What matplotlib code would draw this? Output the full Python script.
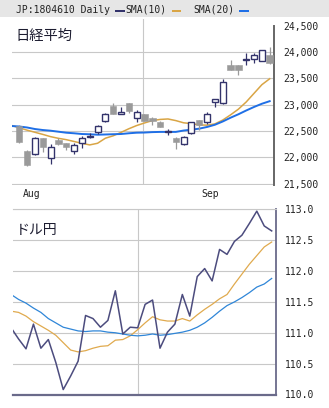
import matplotlib
matplotlib.use('Agg')
from matplotlib import pyplot as plt
from matplotlib.patches import Rectangle
import numpy as np

plt.rcParams.update({
    'font.family': ['DejaVu Sans Mono'],
    'font.size': 7,
    'figure.dpi': 100,
})

# --- Nikkei 225 daily candles (Aug 10 .. Sep 27) ---
nk_open = [22594, 22119, 22057, 22361, 21981, 22328, 22266, 22119, 22266, 22385, 22486,
           22695, 22975, 22822, 23037, 22741, 22822, 22746, 22676, 22480, 22372, 22247,
           22467, 22703, 22665, 23044, 23031, 23753, 23753, 23842, 23873, 23835, 23937]
nk_high = [22613, 22138, 22380, 22372, 22252, 22361, 22270, 22266, 22404, 22456, 22610,
           22847, 23025, 22961, 23040, 22898, 22830, 22771, 22680, 22537, 22380, 22395,
           22676, 22710, 22866, 23110, 23487, 23842, 23760, 23981, 23981, 24040, 24089]
nk_low = [22266, 21834, 22040, 22106, 21867, 22233, 22138, 22057, 22171, 22372, 22442,
          22665, 22817, 22822, 22847, 22676, 22690, 22613, 22575, 22423, 22152, 22240,
          22442, 22518, 22632, 22961, 23020, 23650, 23569, 23759, 23791, 23830, 23780]
nk_close = [22296, 21853, 22361, 22201, 22190, 22258, 22201, 22228, 22361, 22404, 22600,
            22817, 22817, 22855, 22879, 22866, 22695, 22680, 22581, 22487, 22296, 22391,
            22665, 22613, 22822, 23107, 23430, 23664, 23664, 23858, 23937, 24032, 23791]
# moving averages start one session earlier (clipped at the left edge)
nk_sma10 = [22605, 22560, 22515, 22475, 22435, 22392, 22360, 22335, 22300, 22265, 22235,
            22266, 22362, 22408, 22473, 22542, 22603, 22652, 22697, 22719, 22728, 22697,
            22655, 22640, 22615, 22610, 22634, 22707, 22806, 22914, 23051, 23215, 23379,
            23492]
nk_sma20 = [22594, 22585, 22566, 22537, 22518, 22505, 22486, 22467, 22456, 22442, 22437,
            22429, 22433, 22438, 22442, 22456, 22467, 22470, 22478, 22482, 22482, 22482,
            22508, 22524, 22544, 22576, 22618, 22680, 22752, 22817, 22889, 22956, 23017,
            23066]
nk_ticks = [21500, 22000, 22500, 23000, 23500, 24000, 24500]
nk_labels = ['21,500', '22,000', '22,500', '23,000', '23,500', '24,000', '24,500']

# --- USD/JPY daily close (Aug 9 .. Sep 27) ---
fx_close = [111.08, 110.90, 110.74, 111.14, 110.75, 110.89, 110.52, 110.08, 110.30,
            110.54, 111.28, 111.23, 111.09, 111.20, 111.68, 110.98, 111.09, 111.08,
            111.46, 111.53, 110.75, 111.01, 111.14, 111.62, 111.27, 111.91, 112.04,
            111.84, 112.35, 112.27, 112.48, 112.58, 112.77, 112.97, 112.73, 112.65]
fx_sma10 = [111.35, 111.33, 111.27, 111.18, 111.11, 111.04, 110.96, 110.84, 110.72,
            110.69, 110.71, 110.75, 110.78, 110.79, 110.88, 110.89, 110.95, 111.05,
            111.16, 111.26, 111.21, 111.19, 111.19, 111.23, 111.19, 111.29, 111.38,
            111.46, 111.55, 111.62, 111.79, 111.95, 112.11, 112.25, 112.39, 112.47]
fx_sma20 = [111.62, 111.54, 111.48, 111.40, 111.33, 111.23, 111.16, 111.09, 111.06,
            111.03, 111.02, 111.03, 111.03, 111.01, 111.00, 110.98, 110.96, 110.95,
            110.96, 110.98, 110.96, 110.97, 110.99, 111.01, 111.04, 111.09, 111.16,
            111.25, 111.35, 111.44, 111.50, 111.57, 111.65, 111.74, 111.79, 111.88]
fx_ticks = [110.0, 110.5, 111.0, 111.5, 112.0, 112.5, 113.0]
fx_labels = ['110.0', '110.5', '111.0', '111.5', '112.0', '112.5', '113.0']

month_labels = ['Aug', 'Sep']

NAVY = '#33336b'
GRAY = '#9a9a9a'
GRID = '#c8c8c8'
W, H = 329, 408


def px_box(x0, y0, x1, y1):
    """Axes rectangle from pixel corners (top-left origin)."""
    return [x0 / W, 1 - y1 / H, (x1 - x0) / W, (y1 - y0) / H]


fig = plt.figure(figsize=(W / 100, H / 100), dpi=100)

# header bar + legend
hdr = fig.add_axes([0, 0, 1, 1])
hdr.set_xlim(0, W)
hdr.set_ylim(H, 0)
hdr.axis('off')
hdr.add_patch(Rectangle((0, 0), W, 16.5, color='#e6e6e6', lw=0))
hdr.text(16, 13, 'JP:1804610 Daily', fontsize=7, color='#222222')
hdr.add_patch(Rectangle((115, 9.8), 10, 2.4, color=NAVY, lw=0))
hdr.text(125, 13, 'SMA(10)', fontsize=7, color='#222222')
hdr.add_patch(Rectangle((172, 10), 9, 2.2, color='#d9a545', lw=0))
hdr.text(193, 13, 'SMA(20)', fontsize=7, color='#222222')
hdr.add_patch(Rectangle((239, 10), 10, 2.2, color='#1f6fe6', lw=0))

# ---------------- Nikkei panel ----------------
ax = fig.add_axes(px_box(12, 19, 274, 184.6))
x = np.arange(len(nk_close))
o = np.array(nk_open)
c = np.array(nk_close)
up = c >= o
body_lo = np.minimum(o, c)
body_h = np.maximum(np.abs(c - o), 12)

ax.vlines(x[up], np.array(nk_low)[up], np.array(nk_high)[up], color=NAVY, lw=0.9, zorder=3)
ax.vlines(x[~up], np.array(nk_low)[~up], np.array(nk_high)[~up], color=GRAY, lw=0.9, zorder=3)
ax.bar(x[up], body_h[up], bottom=body_lo[up], width=0.76, facecolor='white',
       edgecolor=NAVY, lw=1.0, zorder=4)
ax.bar(x[~up], body_h[~up], bottom=body_lo[~up], width=0.82, facecolor=GRAY,
       edgecolor=GRAY, lw=0.4, zorder=4)

xs = np.arange(-1, len(nk_sma10) - 1)
ax.plot(xs, nk_sma10, color='#d9a545', lw=1.1, zorder=2)
ax.plot(xs, nk_sma20, color='#1f6fe6', lw=1.4, zorder=2)

ax.set_xlim(-0.93, 32.55)
ax.set_ylim(21481, 24627)
ax.set_yticks(nk_ticks)
ax.set_yticklabels(nk_labels)
ax.yaxis.tick_right()
ax.set_xticks([1.56, 24.43])
ax.set_xticklabels(month_labels)
ax.tick_params(length=0, labelsize=7, labelcolor='#222222')
ax.tick_params(axis='y', pad=6.5)
ax.tick_params(axis='x', pad=3.5)
ax.grid(axis='y', color=GRID, lw=0.8)
ax.yaxis.get_gridlines()[-1].set_visible(False)
ax.axvline(15.85, color=GRID, lw=0.8, zorder=1)
for s in ['top', 'left', 'bottom']:
    ax.spines[s].set_visible(False)
ax.spines['right'].set_color('#666666')
ax.spines['right'].set_linewidth(1.4)
ax.spines['right'].set_bounds(21481, 24500)
ax.set_axisbelow(True)
ax.text(0.012, 0.9, '日経平均', transform=ax.transAxes, fontsize=10.3,
        family=['Noto Sans CJK JP', 'DejaVu Sans'], color='#1c1c30', va='center')

# ---------------- USD/JPY panel ----------------
bx = fig.add_axes(px_box(13, 209.3, 276, 394.5))
xf = np.arange(-2, len(fx_close) - 2)
bx.plot(xf, fx_close, color='#4c4c7e', lw=1.1, zorder=3)
bx.plot(xf, fx_sma10, color='#e0aa4e', lw=0.9, zorder=2)
bx.plot(xf, fx_sma20, color='#2f86d8', lw=0.9, zorder=2)

bx.set_xlim(-1.746, 33.58)
bx.set_ylim(110.0, 113.0)
bx.set_yticks(fx_ticks)
bx.set_yticklabels(fx_labels)
bx.yaxis.tick_right()
bx.set_xticks([])
bx.tick_params(length=0, labelsize=7, labelcolor='#222222', pad=6.5)
bx.grid(axis='y', color=GRID, lw=0.8)
bx.axvline(15, color=GRID, lw=0.8, zorder=1)
bx.set_axisbelow(True)
bx.spines['left'].set_visible(False)
bx.spines['top'].set_color(GRID)
bx.spines['top'].set_linewidth(0.8)
bx.spines['right'].set_color('#6a6a8a')
bx.spines['right'].set_linewidth(1.3)
bx.spines['bottom'].set_color('#6a6a8a')
bx.spines['bottom'].set_linewidth(1.6)
bx.text(0.01, 0.89, 'ドル円', transform=bx.transAxes, fontsize=10,
        family=['Noto Sans CJK JP', 'DejaVu Sans'], color='#1c1c30', va='center')

fig.savefig('out.png', dpi=100)
plt.close(fig)
